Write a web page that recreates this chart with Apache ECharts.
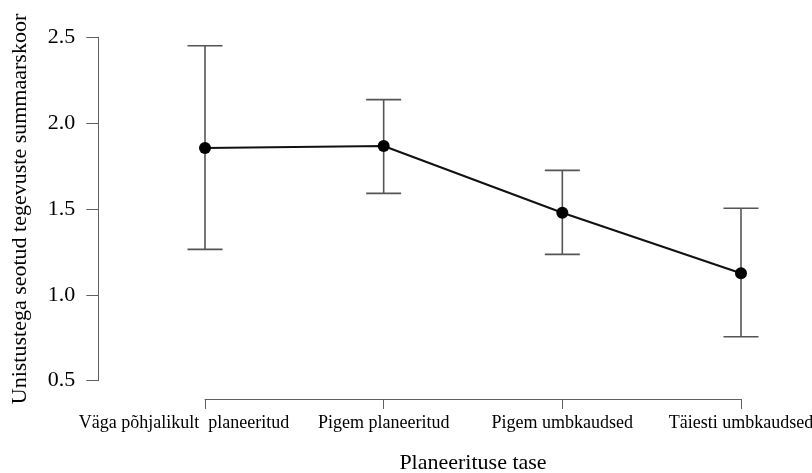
<!DOCTYPE html>
<html>
<head>
<meta charset="utf-8">
<script src="https://cdn.jsdelivr.net/npm/echarts@6/dist/echarts.min.js"></script>
<style>html,body{margin:0;padding:0;background:#fff}#c{width:812px;height:473px}</style>
</head>
<body>
<div id="c"></div>
<script>
const categories = ['Väga põhjalikult planeeritud', 'Pigem planeeritud', 'Pigem umbkaudsed', 'Täiesti umbkaudsed'];
const means = [1.855, 1.867, 1.478, 1.126];
const lower = [1.265, 1.591, 1.236, 0.756];
const upper = [2.451, 2.137, 1.725, 1.504];
const yTicks = [0.5, 1.0, 1.5, 2.0, 2.5];

const chart = echarts.init(document.getElementById('c'));
const font = 'Liberation Serif';
const axisColor = '#606060';

chart.setOption({
  animation: false,
  grid: { left: 205, right: 71, top: 37.3, bottom: 92.3, outerBoundsMode: 'none', containLabel: false },
  xAxis: {
    type: 'category',
    data: categories,
    boundaryGap: false,
    offset: 18.3,
    name: 'Planeerituse tase',
    nameLocation: 'middle',
    nameGap: 53,
    nameTextStyle: { fontFamily: font, fontSize: 22, color: '#000' },
    axisLine: { lineStyle: { color: axisColor, width: 1 } },
    axisTick: { show: true, length: 10, inside: false, lineStyle: { color: axisColor } },
    axisLabel: {
      fontFamily: font, fontSize: 18, color: '#000', margin: 15, interval: 0,
      formatter: (v, i) => i === 0 ? '{first|' + v.replace('põhjalikult ', 'põhjalikult  ') + '}' : v,
      rich: { first: { fontFamily: font, fontSize: 18, color: '#000', padding: [0, 42, 0, 0] } }
    },
    splitLine: { show: false }
  },
  yAxis: {
    type: 'value',
    min: yTicks[0],
    max: yTicks[yTicks.length - 1],
    interval: 0.5,
    offset: 106.7,
    name: 'Unistustega seotud tegevuste summaarskoor',
    nameLocation: 'middle',
    nameGap: 67,
    nameTextStyle: { fontFamily: font, fontSize: 22, color: '#000' },
    axisLine: { show: true, lineStyle: { color: axisColor, width: 1 } },
    axisTick: { show: true, length: 12, lineStyle: { color: axisColor } },
    axisLabel: { fontFamily: font, fontSize: 22, color: '#000', margin: 23, formatter: v => v.toFixed(1) },
    splitLine: { show: false }
  },
  series: [
    {
      type: 'custom',
      data: categories.map((c, i) => [i, lower[i], upper[i]]),
      renderItem: function (params, api) {
        const x = api.value(0);
        const lo = api.coord([x, api.value(1)]);
        const hi = api.coord([x, api.value(2)]);
        const hw = 17.5;
        const style = { stroke: '#555', lineWidth: 1.6 };
        return {
          type: 'group',
          children: [
            { type: 'line', shape: { x1: lo[0], y1: lo[1], x2: hi[0], y2: hi[1] }, style },
            { type: 'line', shape: { x1: hi[0] - hw, y1: hi[1], x2: hi[0] + hw, y2: hi[1] }, style },
            { type: 'line', shape: { x1: lo[0] - hw, y1: lo[1], x2: lo[0] + hw, y2: lo[1] }, style }
          ]
        };
      },
      z: 1
    },
    {
      type: 'line',
      data: means,
      symbol: 'circle',
      symbolSize: 12,
      lineStyle: { color: '#111', width: 2 },
      itemStyle: { color: '#000' },
      z: 3
    }
  ]
});
</script>
</body>
</html>
